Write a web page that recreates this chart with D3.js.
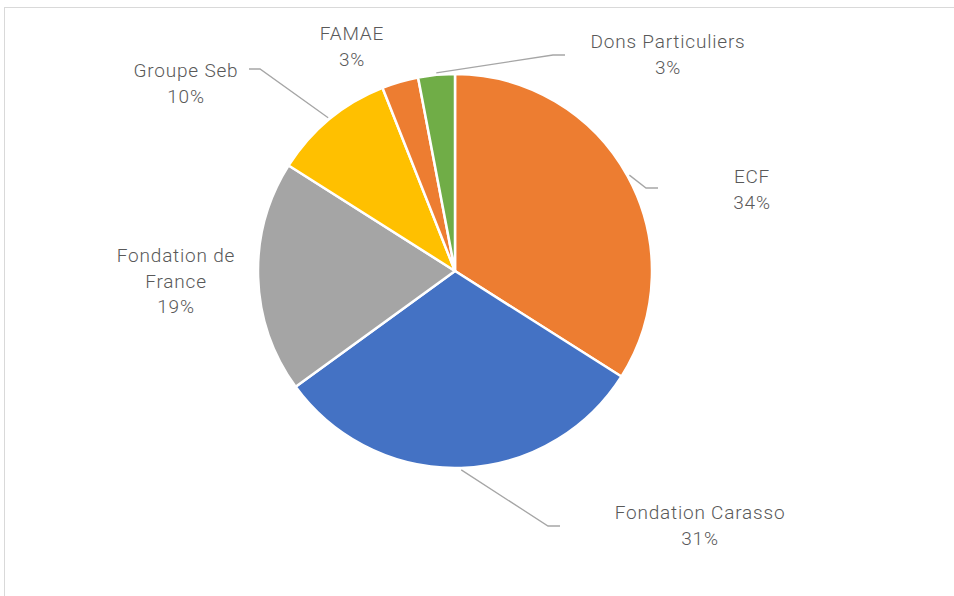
<!DOCTYPE html>
<html><head><meta charset="utf-8">
<script src="https://cdn.jsdelivr.net/npm/d3@7"></script>
<style>html,body{margin:0;padding:0;background:#fff;}svg{display:block;}</style>
</head><body>
<svg id="chart" width="954" height="596"></svg>
<script>
// Data
const categories = ["ECF", "Fondation Carasso", "Fondation de France", "Groupe Seb", "FAMAE", "Dons Particuliers"];
const values = [34, 31, 19, 10, 3, 3];
const percentLabels = ["34%", "31%", "19%", "10%", "3%", "3%"];
const colors = ["#ED7D31", "#4472C4", "#A5A5A5", "#FFC000", "#ED7D31", "#70AD47"];
// Layout of labels (text centre x, first-line y, name lines) and leader line elbows
const labelLayout = [
  {x: 752, y: 183, lines: ["ECF"], leader: [[646,188],[658,188]]},
  {x: 700, y: 519, lines: ["Fondation Carasso"], leader: [[548,526],[560,526]]},
  {x: 176, y: 262, lines: ["Fondation de", "France"], leader: null},
  {x: 186, y: 77, lines: ["Groupe Seb"], leader: [[260,69],[249,69]]},
  {x: 352, y: 40, lines: ["FAMAE"], leader: null},
  {x: 668, y: 48, lines: ["Dons Particuliers"], leader: [[553,55],[565,55]]}
];

const svg = d3.select("#chart");
// frame
svg.append("rect").attr("x", 4.5).attr("y", 7.5).attr("width", 1000).attr("height", 700)
  .attr("fill", "none").attr("stroke", "#d9d9d9").attr("stroke-width", 1);

const cx = 455, cy = 271, r = 197;
const g = svg.append("g").attr("transform", `translate(${cx},${cy})`);
const data = categories.map((c, i) => ({name: c, value: values[i], pct: percentLabels[i], color: colors[i], layout: labelLayout[i]}));
const pie = d3.pie().value(d => d.value).sort(null);
const arcs = pie(data);
const arc = d3.arc().innerRadius(0).outerRadius(r);

g.selectAll("path.slice").data(arcs).join("path")
  .attr("class", "slice")
  .attr("d", arc)
  .attr("fill", d => d.data.color)
  .attr("stroke", "#fff").attr("stroke-width", 2.5).attr("stroke-linejoin", "round");

// leader lines
arcs.forEach(a => {
  const L = a.data.layout;
  if (!L.leader) return;
  const mid = (a.startAngle + a.endAngle) / 2;
  const sx = cx + (r + 2) * Math.sin(mid), sy = cy - (r + 2) * Math.cos(mid);
  const pts = [[sx, sy]].concat(L.leader);
  svg.append("path").attr("d", d3.line()(pts))
    .attr("fill", "none").attr("stroke", "#a6a6a6").attr("stroke-width", 1.3);
});

// labels
arcs.forEach(a => {
  const L = a.data.layout;
  const t = svg.append("text")
    .attr("text-anchor", "middle")
    .attr("font-family", "Roboto, 'Open Sans', sans-serif")
    .attr("font-size", 19)
    .attr("font-weight", 300)
    .attr("letter-spacing", 0.8)
    .attr("fill", "#595959");
  const lines = L.lines.concat([a.data.pct]);
  lines.forEach((ln, i) => {
    t.append("tspan").attr("x", L.x).attr("y", L.y + i * 25.5).text(ln);
  });
});
</script>
</body></html>
